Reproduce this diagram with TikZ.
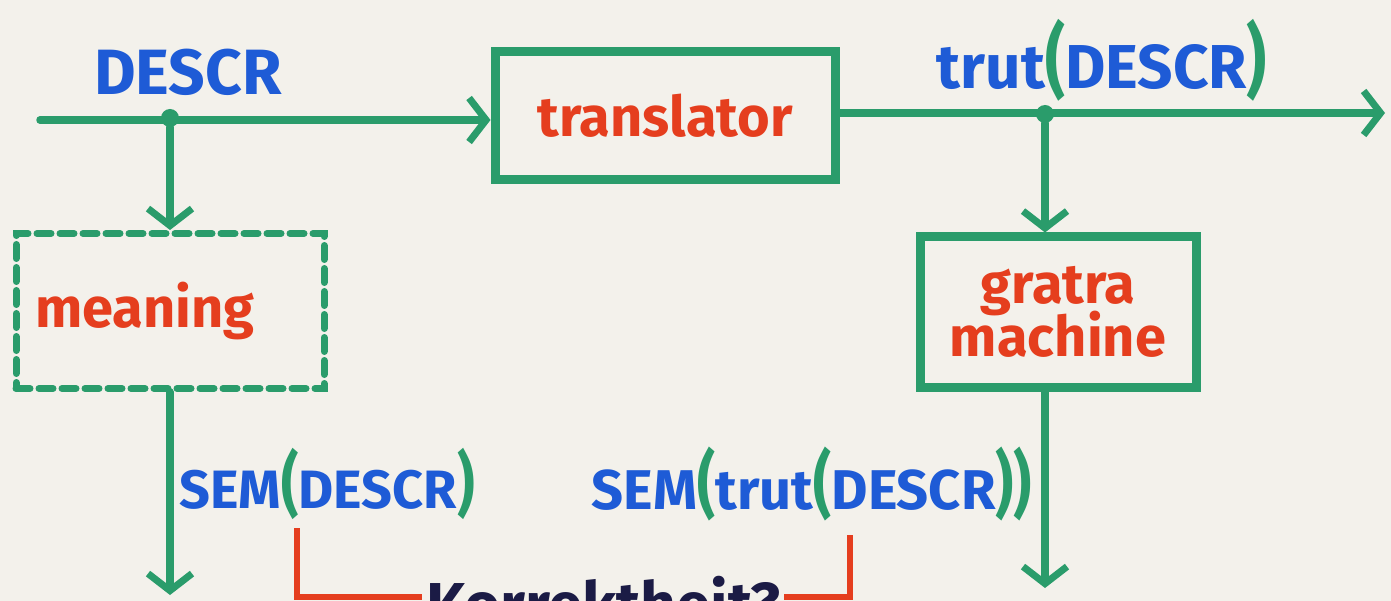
\documentclass[tikz,border=0pt]{standalone}
\usepackage{fontspec}
\setmainfont{Fira Sans}
\usepackage{graphicx}
\usetikzlibrary{arrows.meta}
\definecolor{mgreen}{HTML}{2A9C6B}
\definecolor{mblue}{HTML}{1E5BD6}
\definecolor{mred}{HTML}{E53E1E}
\definecolor{mnavy}{HTML}{1B1B45}
\definecolor{paper}{HTML}{F3F1EB}
\newcommand{\gp}[1]{\textcolor{mgreen}{\scalebox{1}[1.3]{#1}}}
\tikzset{
  flow/.style={draw=mgreen, line width=7.5pt, line cap=round,
    -{Straight Barb[length=17pt,width=44pt,line width=7pt]}},
  procbox/.style={draw=mgreen, line width=9pt, rectangle, align=center,
    text=mred, font=\bfseries\fontsize{56}{52}\selectfont},
  dashbox/.style={procbox, line width=7pt, dash pattern=on 14pt off 9pt, line cap=round},
  lab/.style={text=mblue, font=\bfseries\fontsize{54}{54}\selectfont, inner sep=0pt},
  junction/.style={circle, fill=mgreen, minimum size=18pt, inner sep=0pt},
  brack/.style={draw=mred, line width=6pt},
}
\begin{document}
\begin{tikzpicture}[x=1pt,y=-1pt]
\useasboundingbox (0,0) rectangle (1391,601);
\fill[paper] (0,0) rectangle (1391,601);
% boxes
\node[procbox, minimum width=340pt, minimum height=128pt] (trans) at (665,116) {translator};
\node[dashbox, minimum width=308pt, minimum height=155pt] (meaning) at (170,311) {\hspace*{-50pt}meaning};
\node[procbox, minimum width=276pt, minimum height=150pt] (gratra) at (1058,312) {gratra\\[-6pt]machine};
% coordinates
\coordinate (in) at (40,120);
\coordinate (out) at (1385,113);
\node[junction] (j1) at (170,118) {};
\node[junction] (j2) at (1045,114) {};
\coordinate (e1) at (170,595);
\coordinate (e2) at (1045,588);
% connectors
\draw[flow] (in) -- (trans.west |- in);
\draw[flow] (trans.east |- out) -- (out);
\draw[flow] (j1) -- (meaning.north);
\draw[flow] (meaning.south) -- (e1);
\draw[flow] (j2) -- (j2 |- gratra.north);
\draw[flow] (j2 |- gratra.south) -- (e2);
% labels
\node[lab, font=\bfseries\fontsize{64}{64}\selectfont] (l1) at (188,72) {DESCR};
\node[lab, font=\bfseries\fontsize{62}{62}\selectfont] (l2) at (1102,60) {trut\gp{(}DESCR\gp{)}};
\node[lab] (l3) at (327,484) {SEM\gp{(}DESCR\gp{)}};
\node[lab, font=\bfseries\fontsize{56}{56}\selectfont] (l4) at (812,484) {SEM\gp{(}trut\gp{(}DESCR\gp{)}\gp{)}};
% Korrektheit
\node[text=mnavy, font=\bfseries\fontsize{62}{62}\selectfont, anchor=base] (k) at (603,626) {Korrektheit?};
\coordinate (b1) at (297,528);
\coordinate (b2) at (850,535);
\draw[brack] (b1) -- (297,597) -- (k.west |- 0,597);
\draw[brack] (b2) -- (850,597) -- (k.east |- 0,597);
\end{tikzpicture}
\end{document}
